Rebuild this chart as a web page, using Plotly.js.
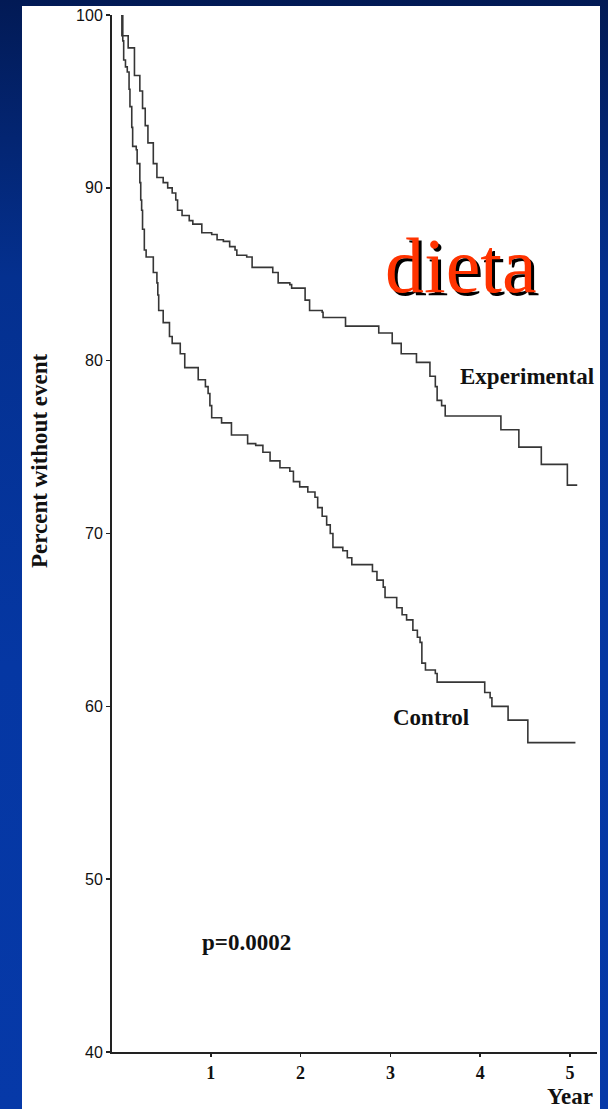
<!DOCTYPE html>
<html>
<head>
<meta charset="utf-8">
<script src="https://cdn.plot.ly/plotly-3.0.1.min.js"></script>
<style>
  html, body { margin: 0; padding: 0; }
  body {
    width: 608px; height: 1109px; overflow: hidden; position: relative;
    background: linear-gradient(to bottom, #021a55 0%, #04308f 25%, #0537a3 60%, #0639a8 100%);
  }
  #chart { position: absolute; left: 22px; top: 6px; width: 578px; height: 1103px; background: #ffffff; }
</style>
</head>
<body>
<div id="chart"></div>
<script>
// ---- Data ----
const expTime = [0, 0.01, 0.08, 0.15, 0.21, 0.24, 0.27, 0.30, 0.36, 0.40, 0.47, 0.52, 0.57, 0.61, 0.63, 0.68, 0.76, 0.80, 0.90, 1.01, 1.07, 1.14, 1.21, 1.27, 1.29, 1.40, 1.46, 1.69, 1.75, 1.88, 1.90, 2.05, 2.10, 2.24, 2.25, 2.50, 2.87, 3.02, 3.12, 3.29, 3.44, 3.50, 3.52, 3.57, 3.61, 4.23, 4.43, 4.68, 4.97, 5.08];
const expSurv = [100, 98.8, 98.1, 96.5, 95.6, 94.6, 93.6, 92.6, 91.4, 90.6, 90.3, 90.0, 89.7, 89.3, 88.7, 88.4, 88.1, 87.9, 87.4, 87.3, 87.0, 86.9, 86.6, 86.4, 86.1, 86.0, 85.4, 85.1, 84.5, 84.4, 84.2, 83.5, 82.9, 82.8, 82.5, 82.0, 81.6, 81.0, 80.4, 79.9, 79.1, 78.5, 77.7, 77.4, 76.8, 76.0, 75.0, 74.0, 72.8, 72.8];

const ctrlTime = [0, 0.02, 0.03, 0.05, 0.07, 0.09, 0.10, 0.12, 0.13, 0.17, 0.18, 0.21, 0.22, 0.23, 0.24, 0.26, 0.28, 0.36, 0.40, 0.41, 0.42, 0.47, 0.54, 0.57, 0.66, 0.71, 0.86, 0.94, 0.97, 0.99, 1.01, 1.12, 1.23, 1.41, 1.50, 1.58, 1.66, 1.77, 1.88, 1.92, 1.99, 2.08, 2.16, 2.19, 2.24, 2.29, 2.33, 2.36, 2.47, 2.52, 2.57, 2.80, 2.85, 2.92, 2.94, 3.07, 3.13, 3.18, 3.25, 3.30, 3.33, 3.35, 3.39, 3.50, 3.52, 4.05, 4.11, 4.13, 4.31, 4.53, 5.06];
const ctrlSurv = [100, 98.5, 97.4, 97.0, 96.7, 95.7, 94.7, 93.5, 92.4, 92.2, 91.4, 90.3, 89.3, 88.7, 87.6, 86.4, 86.0, 85.1, 84.5, 83.8, 82.9, 82.2, 81.4, 81.0, 80.4, 79.6, 78.9, 78.5, 78.1, 77.4, 76.7, 76.4, 75.7, 75.2, 75.1, 74.7, 74.2, 73.8, 73.6, 73.0, 72.7, 72.4, 72.1, 71.5, 71.0, 70.5, 70.0, 69.2, 69.0, 68.6, 68.2, 67.8, 67.3, 66.9, 66.3, 65.7, 65.3, 65.0, 64.4, 64.0, 63.7, 62.5, 62.1, 61.9, 61.4, 60.8, 60.5, 60.0, 59.2, 57.9, 57.9];

const xTickVals = [1, 2, 3, 4, 5];
const xTickText = ['1', '2', '3', '4', '5'];
const yTickVals = [40, 50, 60, 70, 80, 90, 100];
const yTickText = ['40', '50', '60', '70', '80', '90', '100'];

const seriesNames = ['Experimental', 'Control'];
const titleText = 'dieta';
const yTitle = 'Percent without event';
const xTitle = 'Year';
const pText = 'p=0.0002';

// ---- Layout helpers (page pixel -> paper coords) ----
const DIV_L = 22, DIV_T = 6, DIV_W = 578, DIV_H = 1103;
const M = { l: 90, r: 3, t: 9, b: 57 };
const PW = DIV_W - M.l - M.r, PH = DIV_H - M.t - M.b;
const px = X => (X - DIV_L - M.l) / PW;
const py = Y => 1 - (Y - DIV_T - M.t) / PH;

const serif = '"Liberation Serif", "Times New Roman", serif';
const sans = '"Liberation Sans", Arial, sans-serif';
const lineColor = '#363636';

const traces = [
  { x: expTime, y: expSurv, name: seriesNames[0], mode: 'lines', line: { shape: 'hv', color: lineColor, width: 1.6 } },
  { x: ctrlTime, y: ctrlSurv, name: seriesNames[1], mode: 'lines', line: { shape: 'hv', color: lineColor, width: 1.6 } }
];

const ann = (text, X, Y, size, opts) => Object.assign({
  text, xref: 'paper', yref: 'paper', x: px(X), y: py(Y), showarrow: false,
  xanchor: 'center', yanchor: 'middle',
  font: { family: serif, size, color: '#111111', weight: 'bold' }
}, opts || {});

const layout = {
  width: DIV_W, height: DIV_H,
  margin: M,
  paper_bgcolor: '#ffffff', plot_bgcolor: '#ffffff',
  showlegend: false,
  xaxis: {
    range: [-0.1, 5.3], showgrid: false, zeroline: false,
    showline: true, linecolor: '#222222', linewidth: 2,
    tickmode: 'array', tickvals: xTickVals, ticktext: xTickText,
    ticks: 'outside', ticklen: 3, tickwidth: 1.5, tickcolor: '#222222',
    tickfont: { family: serif, size: 18, color: '#111111', weight: 'bold' }
  },
  yaxis: {
    range: [40, 100], showgrid: false, zeroline: false,
    showline: true, linecolor: '#222222', linewidth: 2,
    tickmode: 'array', tickvals: yTickVals, ticktext: yTickText,
    ticks: 'outside', ticklen: 4, tickwidth: 1.5, tickcolor: '#222222',
    tickfont: { family: sans, size: 16, color: '#111111' }
  },
  annotations: [
    ann(yTitle, 40, 461, 23, { textangle: -90 }),
    ann(seriesNames[0], 527, 376, 23),
    ann(seriesNames[1], 431, 717, 23),
    ann(pText, 246, 942, 23),
    ann(xTitle, 570, 1096, 23),
    ann(titleText, 461, 265, 78, { font: { family: serif, size: 78, color: '#ff3300', shadow: '3px 3px 0px #000000' } })
  ]
};

Plotly.newPlot('chart', traces, layout, { staticPlot: true, displayModeBar: false });
</script>
</body>
</html>
